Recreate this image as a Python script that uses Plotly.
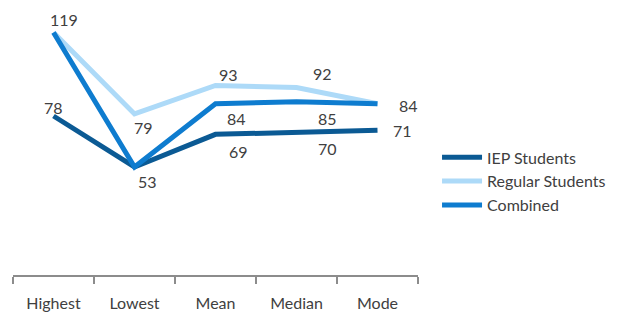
import plotly.graph_objects as go

categories = ["Highest", "Lowest", "Mean", "Median", "Mode"]
iep = [78, 53, 69, 70, 71]
regular = [119, 79, 93, 92, 84]
combined = [119, 53, 84, 85, 84]

# which points carry a value label, with pixel offsets (style)
iep_labels = [True, True, True, True, True]
iep_shift = [(0, 9), (13, -15), (23, -17), (31, -16), (25, 0)]
reg_labels = [True, True, True, True, True]
reg_shift = [(10, 13), (9, -14), (13, 11), (26, 14), (31, -2)]
comb_labels = [False, False, True, True, False]
comb_shift = [(0, 0), (0, 0), (21, -15), (31, -17), (0, 0)]

colors = {"IEP Students": "#0B5A94", "Regular Students": "#ADDAF8", "Combined": "#0E7CCF"}
font = "Lato, 'Open Sans', sans-serif"
txt_color = "#404040"

fig = go.Figure()
series = [("IEP Students", iep, iep_labels, iep_shift),
          ("Regular Students", regular, reg_labels, reg_shift),
          ("Combined", combined, comb_labels, comb_shift)]
for name, vals, show, shifts in series:
    fig.add_trace(go.Scatter(x=categories, y=vals, mode="lines", name=name,
                             line=dict(color=colors[name], width=5, shape="linear"),
                             hoverinfo="skip"))
    for c, v, s, (dx, dy) in zip(categories, vals, show, shifts):
        if s:
            fig.add_annotation(x=c, y=v, text=str(v), showarrow=False,
                               xshift=dx, yshift=dy,
                               font=dict(family=font, size=16, color=txt_color))

fig.update_layout(
    width=631, height=307,
    margin=dict(l=5, r=221, t=2, b=40, autoexpand=False),
    paper_bgcolor="white", plot_bgcolor="white",
    showlegend=True,
    legend=dict(x=1.047, y=0.508, xanchor="left", yanchor="top",
                font=dict(family=font, size=16, color=txt_color),
                bgcolor="rgba(0,0,0,0)", tracegroupgap=0, itemwidth=40),
    xaxis=dict(type="category", tickson="boundaries", range=[-0.5, 4.5],
               showline=True, linecolor="#8C8C8C", linewidth=2,
               ticks="outside", ticklen=7, tickcolor="#8C8C8C", tickwidth=2,
               ticklabelstandoff=13,
               showgrid=False, zeroline=False,
               tickfont=dict(family=font, size=16, color=txt_color)),
    yaxis=dict(range=[0, 130], visible=False, showgrid=False, zeroline=False),
)

fig.write_html("out.html")
